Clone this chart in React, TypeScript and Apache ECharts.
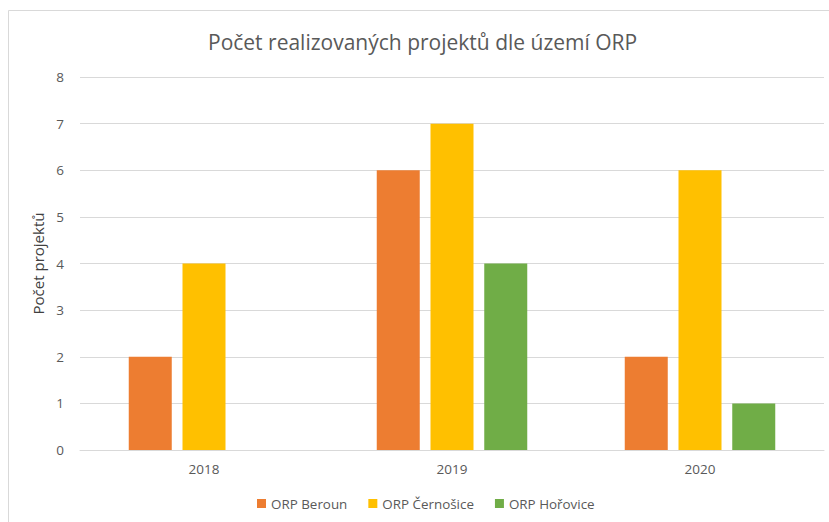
import React, { useEffect, useRef } from "react";
import * as echarts from "echarts";

const categories = ["2018", "2019", "2020"];
const beroun = [2, 6, 2];
const cernosice = [4, 7, 6];
const horovice: (number | null)[] = [null, 4, 1];
const seriesNames = ["ORP Beroun", "ORP Černošice", "ORP Hořovice"];
const title = "Počet realizovaných projektů dle území ORP";
const yName = "Počet projektů";

const FONT = "'Open Sans', 'Noto Sans', sans-serif";
const TXT = "#595959";

export default function App() {
  const ref = useRef<HTMLDivElement>(null);
  useEffect(() => {
    if (!ref.current) return;
    const chart = echarts.init(ref.current, undefined, { renderer: "svg" });
    const bar = (name: string, data: (number | null)[], color: string) => ({
      name,
      type: "bar",
      data,
      barWidth: 43,
      barGap: "25%",
      itemStyle: { color },
    });
    chart.setOption({
      animation: false,
      textStyle: { fontFamily: FONT },
      title: {
        text: title,
        left: 203,
        top: 26,
        textStyle: { fontFamily: FONT, fontSize: 21, fontWeight: "normal", color: TXT },
      },
      graphic: [
        {
          type: "rect",
          shape: { x: 8.5, y: 10.5, width: 900, height: 600 },
          style: { fill: "none", stroke: "#D9D9D9", lineWidth: 1 },
          silent: true,
        },
      ],
      legend: {
        bottom: 7,
        left: 252,
        itemWidth: 9,
        itemHeight: 9,
        itemGap: 21,
        icon: "rect",
        textStyle: { fontFamily: FONT, fontSize: 13.4, color: TXT },
        data: seriesNames,
      },
      grid: { left: 80, right: 5, top: 77, bottom: 72 },
      xAxis: {
        type: "category",
        data: categories,
        axisLine: { lineStyle: { color: "#D9D9D9" } },
        axisTick: { show: false },
        axisLabel: { color: TXT, fontSize: 13.5, fontFamily: FONT, margin: 12 },
      },
      yAxis: {
        type: "value",
        min: 0,
        max: 8,
        interval: 1,
        name: yName,
        nameLocation: "middle",
        nameGap: 27,
        nameTextStyle: { color: "#404040", fontSize: 15, fontFamily: FONT },
        axisLine: { show: false },
        axisTick: { show: false },
        axisLabel: { color: TXT, fontSize: 13.5, fontFamily: FONT, margin: 16 },
        splitLine: { lineStyle: { color: "#D9D9D9" } },
      },
      series: [
        bar(seriesNames[0], beroun, "#ED7D31"),
        bar(seriesNames[1], cernosice, "#FFC000"),
        bar(seriesNames[2], horovice, "#70AD47"),
      ],
    });
    return () => chart.dispose();
  }, []);
  return (
    <div
      ref={ref}
      style={{ position: "absolute", left: 0, top: 0, width: 829, height: 522, background: "#fff" }}
    />
  );
}
